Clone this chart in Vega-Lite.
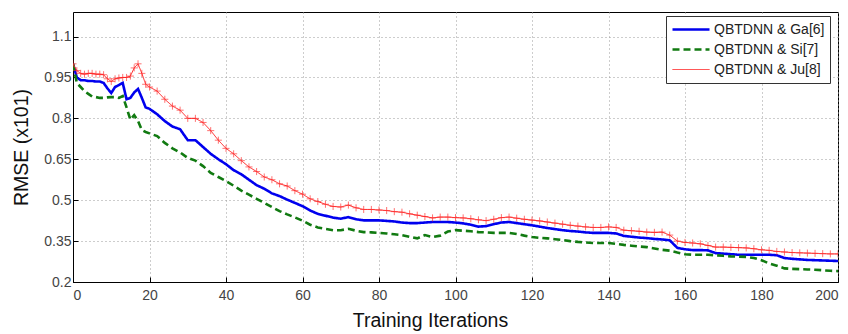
{
  "$schema": "https://vega.github.io/schema/vega-lite/v6.json",
  "width": 765,
  "height": 270,
  "autosize": {"type": "none"},
  "padding": {"left": 73, "top": 12, "right": 10, "bottom": 52},
  "background": "white",
  "config": {
    "font": "Liberation Sans",
    "view": {"stroke": "#000000", "strokeWidth": 1},
    "axis": {
      "labelFont": "Liberation Sans",
      "labelFontSize": 14,
      "labelColor": "#444444",
      "titleFont": "Liberation Sans",
      "titleFontSize": 19.5,
      "titleFontWeight": "normal",
      "titleColor": "#111111",
      "gridColor": "#9a9a9a",
      "gridDash": [1, 3],
      "gridOpacity": 1,
      "domainColor": "#000000",
      "tickColor": "#000000",
      "tickSize": -5
    }
  },
  "data": {
    "values": [
      {"x":0,"Ga":1.0,"Si":1.0,"Ju":1.0},
      {"x":1,"Ga":0.95,"Si":0.93,"Ju":0.975},
      {"x":2,"Ga":0.94,"Si":0.915,"Ju":0.965},
      {"x":3,"Ga":0.94,"Si":0.9,"Ju":0.962},
      {"x":4,"Ga":0.937,"Si":0.89,"Ju":0.965},
      {"x":5,"Ga":0.937,"Si":0.88,"Ju":0.965},
      {"x":6,"Ga":0.935,"Si":0.878,"Ju":0.962},
      {"x":7,"Ga":0.935,"Si":0.875,"Ju":0.962},
      {"x":8,"Ga":0.93,"Si":0.875,"Ju":0.96},
      {"x":9,"Ga":0.91,"Si":0.877,"Ju":0.945},
      {"x":10,"Ga":0.893,"Si":0.878,"Ju":0.935},
      {"x":11,"Ga":0.915,"Si":0.878,"Ju":0.945},
      {"x":12,"Ga":0.922,"Si":0.875,"Ju":0.948},
      {"x":13,"Ga":0.93,"Si":0.882,"Ju":0.95},
      {"x":14,"Ga":0.87,"Si":0.84,"Ju":0.95},
      {"x":15,"Ga":0.875,"Si":0.795,"Ju":0.955},
      {"x":16,"Ga":0.895,"Si":0.812,"Ju":0.985},
      {"x":17,"Ga":0.908,"Si":0.79,"Ju":1.0},
      {"x":18,"Ga":0.875,"Si":0.757,"Ju":0.965},
      {"x":19,"Ga":0.84,"Si":0.75,"Ju":0.925},
      {"x":20,"Ga":0.835,"Si":0.745,"Ju":0.915},
      {"x":22,"Ga":0.815,"Si":0.735,"Ju":0.9},
      {"x":24,"Ga":0.79,"Si":0.71,"Ju":0.87},
      {"x":26,"Ga":0.77,"Si":0.69,"Ju":0.845},
      {"x":28,"Ga":0.76,"Si":0.675,"Ju":0.83},
      {"x":30,"Ga":0.72,"Si":0.655,"Ju":0.8},
      {"x":32,"Ga":0.72,"Si":0.645,"Ju":0.8},
      {"x":34,"Ga":0.695,"Si":0.625,"Ju":0.785},
      {"x":36,"Ga":0.67,"Si":0.6,"Ju":0.755},
      {"x":38,"Ga":0.65,"Si":0.585,"Ju":0.72},
      {"x":40,"Ga":0.632,"Si":0.57,"Ju":0.69},
      {"x":42,"Ga":0.61,"Si":0.553,"Ju":0.67},
      {"x":44,"Ga":0.595,"Si":0.535,"Ju":0.645},
      {"x":46,"Ga":0.575,"Si":0.52,"Ju":0.622},
      {"x":48,"Ga":0.555,"Si":0.505,"Ju":0.605},
      {"x":50,"Ga":0.542,"Si":0.49,"Ju":0.585},
      {"x":52,"Ga":0.525,"Si":0.475,"Ju":0.575},
      {"x":54,"Ga":0.515,"Si":0.46,"Ju":0.56},
      {"x":56,"Ga":0.502,"Si":0.448,"Ju":0.552},
      {"x":58,"Ga":0.49,"Si":0.437,"Ju":0.535},
      {"x":60,"Ga":0.478,"Si":0.425,"Ju":0.522},
      {"x":62,"Ga":0.462,"Si":0.41,"Ju":0.505},
      {"x":64,"Ga":0.45,"Si":0.4,"Ju":0.495},
      {"x":66,"Ga":0.443,"Si":0.395,"Ju":0.485},
      {"x":68,"Ga":0.436,"Si":0.39,"Ju":0.477},
      {"x":70,"Ga":0.432,"Si":0.39,"Ju":0.475},
      {"x":72,"Ga":0.438,"Si":0.395,"Ju":0.482},
      {"x":74,"Ga":0.43,"Si":0.388,"Ju":0.472},
      {"x":76,"Ga":0.426,"Si":0.383,"Ju":0.466},
      {"x":78,"Ga":0.426,"Si":0.382,"Ju":0.466},
      {"x":80,"Ga":0.426,"Si":0.38,"Ju":0.464},
      {"x":82,"Ga":0.424,"Si":0.378,"Ju":0.462},
      {"x":84,"Ga":0.422,"Si":0.375,"Ju":0.458},
      {"x":86,"Ga":0.418,"Si":0.372,"Ju":0.456},
      {"x":88,"Ga":0.416,"Si":0.366,"Ju":0.45},
      {"x":90,"Ga":0.416,"Si":0.36,"Ju":0.445},
      {"x":92,"Ga":0.418,"Si":0.372,"Ju":0.44},
      {"x":94,"Ga":0.42,"Si":0.365,"Ju":0.435},
      {"x":96,"Ga":0.42,"Si":0.37,"Ju":0.438},
      {"x":98,"Ga":0.42,"Si":0.385,"Ju":0.438},
      {"x":100,"Ga":0.418,"Si":0.39,"Ju":0.436},
      {"x":102,"Ga":0.415,"Si":0.388,"Ju":0.435},
      {"x":104,"Ga":0.41,"Si":0.386,"Ju":0.432},
      {"x":106,"Ga":0.403,"Si":0.383,"Ju":0.428},
      {"x":108,"Ga":0.405,"Si":0.382,"Ju":0.425},
      {"x":110,"Ga":0.412,"Si":0.38,"Ju":0.43},
      {"x":112,"Ga":0.418,"Si":0.38,"Ju":0.436},
      {"x":114,"Ga":0.42,"Si":0.38,"Ju":0.438},
      {"x":116,"Ga":0.416,"Si":0.376,"Ju":0.434},
      {"x":118,"Ga":0.412,"Si":0.37,"Ju":0.43},
      {"x":120,"Ga":0.408,"Si":0.365,"Ju":0.427},
      {"x":122,"Ga":0.403,"Si":0.362,"Ju":0.424},
      {"x":124,"Ga":0.398,"Si":0.36,"Ju":0.42},
      {"x":126,"Ga":0.394,"Si":0.357,"Ju":0.416},
      {"x":128,"Ga":0.39,"Si":0.354,"Ju":0.412},
      {"x":130,"Ga":0.387,"Si":0.35,"Ju":0.408},
      {"x":132,"Ga":0.385,"Si":0.347,"Ju":0.405},
      {"x":134,"Ga":0.382,"Si":0.345,"Ju":0.402},
      {"x":136,"Ga":0.38,"Si":0.343,"Ju":0.4},
      {"x":138,"Ga":0.38,"Si":0.343,"Ju":0.4},
      {"x":140,"Ga":0.38,"Si":0.343,"Ju":0.402},
      {"x":142,"Ga":0.378,"Si":0.34,"Ju":0.4},
      {"x":144,"Ga":0.369,"Si":0.336,"Ju":0.39},
      {"x":146,"Ga":0.366,"Si":0.333,"Ju":0.388},
      {"x":148,"Ga":0.363,"Si":0.33,"Ju":0.386},
      {"x":150,"Ga":0.361,"Si":0.328,"Ju":0.383},
      {"x":152,"Ga":0.358,"Si":0.323,"Ju":0.382},
      {"x":154,"Ga":0.356,"Si":0.318,"Ju":0.383},
      {"x":156,"Ga":0.353,"Si":0.315,"Ju":0.372},
      {"x":158,"Ga":0.325,"Si":0.308,"Ju":0.35},
      {"x":160,"Ga":0.32,"Si":0.302,"Ju":0.345},
      {"x":162,"Ga":0.317,"Si":0.3,"Ju":0.343},
      {"x":164,"Ga":0.317,"Si":0.3,"Ju":0.34},
      {"x":166,"Ga":0.316,"Si":0.3,"Ju":0.334},
      {"x":168,"Ga":0.306,"Si":0.298,"Ju":0.328},
      {"x":170,"Ga":0.304,"Si":0.296,"Ju":0.328},
      {"x":172,"Ga":0.302,"Si":0.294,"Ju":0.327},
      {"x":174,"Ga":0.3,"Si":0.293,"Ju":0.326},
      {"x":176,"Ga":0.3,"Si":0.292,"Ju":0.325},
      {"x":178,"Ga":0.3,"Si":0.288,"Ju":0.322},
      {"x":180,"Ga":0.3,"Si":0.28,"Ju":0.318},
      {"x":182,"Ga":0.3,"Si":0.268,"Ju":0.316},
      {"x":184,"Ga":0.298,"Si":0.26,"Ju":0.312},
      {"x":186,"Ga":0.288,"Si":0.25,"Ju":0.31},
      {"x":188,"Ga":0.285,"Si":0.248,"Ju":0.308},
      {"x":190,"Ga":0.283,"Si":0.247,"Ju":0.307},
      {"x":192,"Ga":0.281,"Si":0.246,"Ju":0.306},
      {"x":194,"Ga":0.28,"Si":0.245,"Ju":0.305},
      {"x":196,"Ga":0.279,"Si":0.243,"Ju":0.304},
      {"x":198,"Ga":0.278,"Si":0.241,"Ju":0.303},
      {"x":200,"Ga":0.277,"Si":0.24,"Ju":0.303}
    ]
  },
  "transform": [{"fold": ["Ga", "Si", "Ju"], "as": ["series", "rmse"]}],
  "encoding": {
    "x": {
      "field": "x", "type": "quantitative",
      "scale": {"domain": [0, 200], "nice": false, "zero": false},
      "axis": {"values": [0,20,40,60,80,100,120,140,160,180,200], "title": "Training Iterations", "labelPadding": 11, "titlePadding": 9, "titleX": 357, "grid": true}
    },
    "y": {
      "field": "rmse", "type": "quantitative",
      "scale": {"domain": [0.2, 1.19], "nice": false, "zero": false},
      "axis": {"values": [0.2,0.35,0.5,0.65,0.8,0.95,1.1], "labelExpr": "'' + datum.value", "title": "RMSE (x101)", "labelPadding": 7, "titlePadding": 12, "grid": true}
    }
  },
  "layer": [
    {
      "mark": {"type": "line", "clip": true},
      "encoding": {
        "color": {
          "field": "series", "type": "nominal",
          "scale": {"domain": ["Ga", "Si", "Ju"], "range": ["#0000ee", "#117a11", "#ff2020"]},
          "legend": {
            "title": null,
            "orient": "none",
            "legendX": 593,
            "legendY": 4,
            "direction": "vertical",
            "fillColor": "white",
            "strokeColor": "#333333",
            "padding": 5,
            "symbolType": "stroke",
            "symbolSize": 1369,
            "clipHeight": 17,
            "labelFont": "Liberation Sans",
            "labelFontSize": 14,
            "labelColor": "#222222",
            "labelOffset": 3,
            "rowPadding": 3,
            "labelExpr": "datum.label == 'Ga' ? 'QBTDNN & Ga[6]' : datum.label == 'Si' ? 'QBTDNN & Si[7]' : 'QBTDNN & Ju[8]'"
          }
        },
        "strokeDash": {
          "field": "series", "type": "nominal",
          "scale": {"domain": ["Ga", "Si", "Ju"], "range": [[1, 0], [7, 4], [1, 0]]}
        },
        "strokeWidth": {
          "field": "series", "type": "nominal",
          "scale": {"type": "ordinal", "domain": ["Ga", "Si", "Ju"], "range": [2.6, 2.6, 1]}
        }
      }
    },
    {
      "transform": [{"filter": "datum.series == 'Ju'"}],
      "mark": {"type": "point", "shape": "M-1,0L1,0M0,-1L0,1", "filled": false, "size": 50, "stroke": "#ff2020", "strokeWidth": 0.9, "clip": true},
      "encoding": {}
    }
  ]
}
